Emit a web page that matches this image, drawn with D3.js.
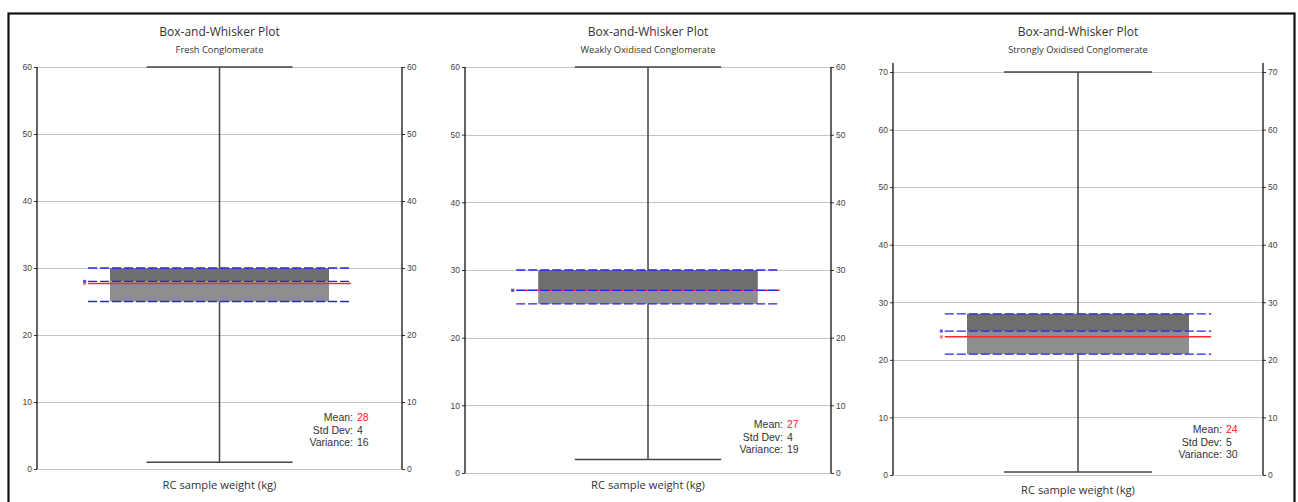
<!DOCTYPE html>
<html>
<head>
<meta charset="utf-8">
<script src="https://cdn.jsdelivr.net/npm/d3@7"></script>
<style>
  html, body { margin: 0; padding: 0; background: #fff; }
  svg { display: block; }
</style>
</head>
<body>
<svg id="chart" width="1298" height="502"></svg>
<script>
// Summary statistics of RC sample weight (kg) per material type
const categories = ["Fresh Conglomerate", "Weakly Oxidised Conglomerate", "Strongly Oxidised Conglomerate"];
const minValues = [1, 2, 0.5];
const q1Values = [25, 25, 21];
const medianValues = [28, 27, 25];
const q3Values = [30, 30, 28];
const maxValues = [60, 60, 70];
const meanValues = [27.7, 27, 24];
const stdDevValues = [4, 4, 5];
const varianceValues = [16, 19, 30];
const axisMax = [60, 60, 70];
const tickValues = [
  [0, 10, 20, 30, 40, 50, 60],
  [0, 10, 20, 30, 40, 50, 60],
  [0, 10, 20, 30, 40, 50, 60, 70]
];
const chartTitle = "Box-and-Whisker Plot";
const xLabel = "RC sample weight (kg)";

// Panel frames (pixels)
const panels = [
  { left: 37,  right: 402,  top: 67, bottom: 469, axisTopExt: 0, statsX: 353, statsY: 417, xLabelY: 485 },
  { left: 465, right: 831,  top: 67, bottom: 473, axisTopExt: 0, statsX: 783, statsY: 424, xLabelY: 485 },
  { left: 893, right: 1263, top: 72, bottom: 475, axisTopExt: 9, statsX: 1222, statsY: 429, xLabelY: 490 }
];

const svg = d3.select("#chart");

// outer frame
svg.append("rect")
  .attr("x", 8.5).attr("y", 13.5)
  .attr("width", 1286).attr("height", 500)
  .attr("fill", "none").attr("stroke", "#111").attr("stroke-width", 2.2);

const textFont = "'Liberation Sans', Arial, sans-serif";
const titleFont = "'Open Sans', 'Noto Sans', sans-serif";

categories.forEach((cat, i) => {
  const p = panels[i];
  const g = svg.append("g");
  const cx = (p.left + p.right) / 2;

  const y = d3.scaleLinear().domain([0, axisMax[i]]).range([p.bottom, p.top]);
  const x = d3.scaleBand().domain([cat]).range([p.left, p.right]).paddingInner(0).paddingOuter(1 / 3);
  const bandL = x(cat), bandW = x.bandwidth();
  const center = bandL + bandW / 2;
  const capHalf = (p.right - p.left) * 0.2;
  const dashHalf = (p.right - p.left) * 0.36;

  // titles
  g.append("text").attr("x", cx).attr("y", 36)
    .attr("text-anchor", "middle").attr("font-family", titleFont)
    .attr("font-size", 12).attr("fill", "#333").text(chartTitle);
  g.append("text").attr("x", cx).attr("y", 53)
    .attr("text-anchor", "middle").attr("font-family", titleFont)
    .attr("font-size", 9.3).attr("fill", "#333").text(cat);

  // gridlines
  g.append("g").selectAll("line").data(tickValues[i]).join("line")
    .attr("x1", p.left).attr("x2", p.right)
    .attr("y1", d => Math.round(y(d)) + 0.5).attr("y2", d => Math.round(y(d)) + 0.5)
    .attr("stroke", "#c4c4c4").attr("stroke-width", 1.2);

  // left and right axes
  const leftAxis = d3.axisLeft(y).tickValues(tickValues[i]).tickSize(3).tickPadding(2).tickFormat(d3.format("d"));
  const rightAxis = d3.axisRight(y).tickValues(tickValues[i]).tickSize(3).tickPadding(2).tickFormat(d3.format("d"));
  [[leftAxis, p.left], [rightAxis, p.right]].forEach(([ax, xpos]) => {
    const a = g.append("g").attr("transform", `translate(${xpos},0)`).call(ax);
    a.select(".domain").remove();
    a.selectAll(".tick line").attr("stroke", "#333");
    a.selectAll(".tick text").attr("font-family", textFont).attr("font-size", 8.5).attr("fill", "#444");
    a.append("line").attr("x1", 0).attr("x2", 0)
      .attr("y1", p.top - p.axisTopExt).attr("y2", p.bottom)
      .attr("stroke", "#111").attr("stroke-width", 1.3);
  });

  // whisker
  g.append("line").attr("x1", center).attr("x2", center)
    .attr("y1", y(maxValues[i])).attr("y2", y(minValues[i]))
    .attr("stroke", "#444").attr("stroke-width", 1.5);
  [maxValues[i], minValues[i]].forEach(v => {
    g.append("line").attr("x1", center - capHalf).attr("x2", center + capHalf)
      .attr("y1", y(v)).attr("y2", y(v))
      .attr("stroke", "#444").attr("stroke-width", 1.5);
  });

  // box: upper part (median..Q3) darker, lower part (Q1..median) lighter
  g.append("rect").attr("x", bandL).attr("width", bandW)
    .attr("y", y(q3Values[i])).attr("height", y(medianValues[i]) - y(q3Values[i]))
    .attr("fill", "#6e6e6e");
  g.append("rect").attr("x", bandL).attr("width", bandW)
    .attr("y", y(medianValues[i])).attr("height", y(q1Values[i]) - y(medianValues[i]))
    .attr("fill", "#8e8e8e");

  // mean line
  g.append("line").attr("x1", center - dashHalf).attr("x2", center + dashHalf)
    .attr("y1", y(meanValues[i])).attr("y2", y(meanValues[i]))
    .attr("stroke", "#ff2a2a").attr("stroke-width", 1.5);
  g.append("rect").attr("x", center - dashHalf - 5).attr("y", y(meanValues[i]) - 1.5)
    .attr("width", 3).attr("height", 3).attr("fill", "#f08080");

  // quartile and median dashed lines
  [q3Values[i], medianValues[i], q1Values[i]].forEach(v => {
    g.append("line").attr("x1", center - dashHalf).attr("x2", center + dashHalf)
      .attr("y1", y(v)).attr("y2", y(v))
      .attr("stroke", "#2323ee").attr("stroke-width", 1.3)
      .attr("stroke-dasharray", "9,3");
  });
  g.append("rect").attr("x", center - dashHalf - 5).attr("y", y(medianValues[i]) - 1.5)
    .attr("width", 3).attr("height", 3).attr("fill", "#5050f0");

  // statistics block
  const stats = [
    ["Mean:", d3.format(".0f")(meanValues[i]), "#ff2020"],
    ["Std Dev:", String(stdDevValues[i]), "#333"],
    ["Variance:", String(varianceValues[i]), "#333"]
  ];
  stats.forEach((s, k) => {
    const yy = p.statsY + k * 12.5 + 4;
    g.append("text").attr("x", p.statsX).attr("y", yy)
      .attr("text-anchor", "end").attr("font-family", textFont)
      .attr("font-size", 10.5).attr("fill", "#333").text(s[0]);
    g.append("text").attr("x", p.statsX + 4).attr("y", yy)
      .attr("font-family", textFont)
      .attr("font-size", 10.5).attr("fill", s[2]).text(s[1]);
  });

  // x-axis label
  g.append("text").attr("x", cx).attr("y", p.xLabelY + 4)
    .attr("text-anchor", "middle").attr("font-family", titleFont)
    .attr("font-size", 11.2).attr("fill", "#333").text(xLabel);
});
</script>
</body>
</html>
